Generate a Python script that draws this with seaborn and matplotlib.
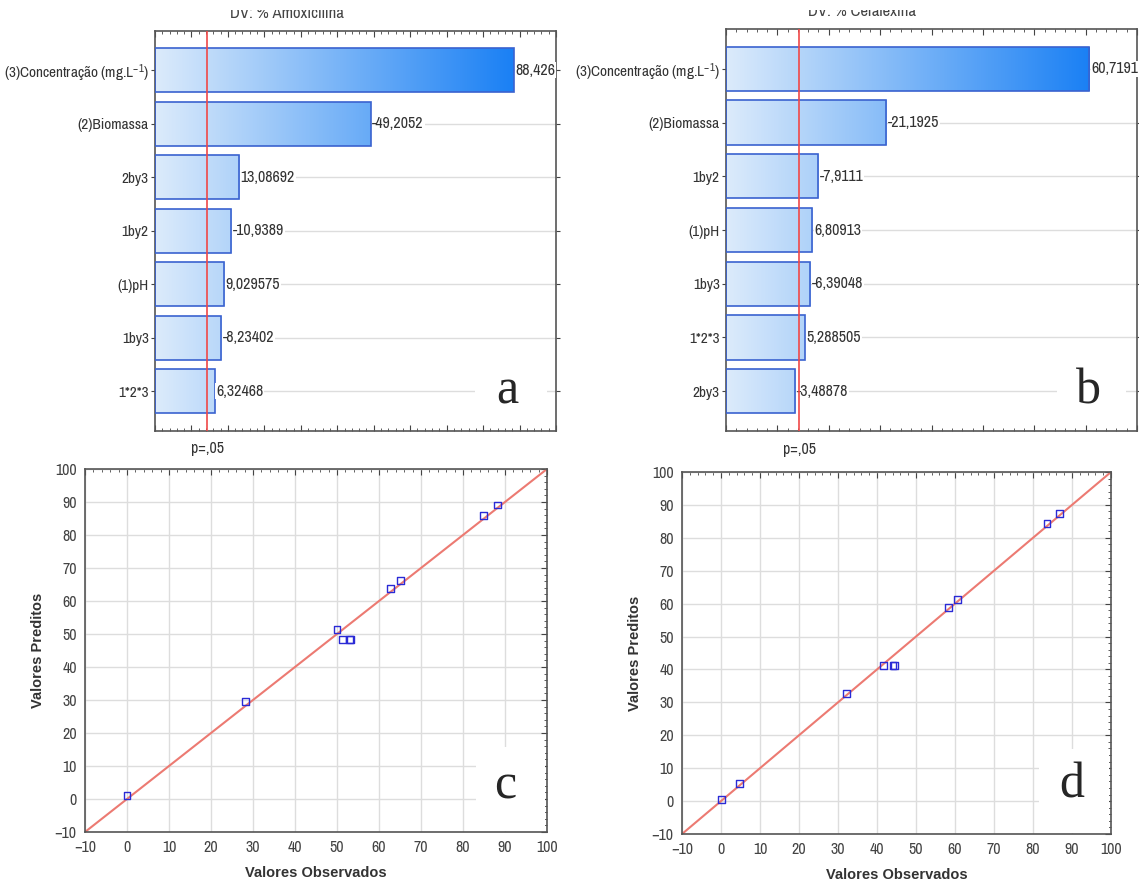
import numpy as np
import matplotlib
matplotlib.use("Agg")
import matplotlib.pyplot as plt
import matplotlib.colors as mcolors
from matplotlib.patches import Rectangle
from matplotlib.ticker import MultipleLocator
import seaborn as sns

# pareto data (standardized effects)
factors_a = ['(3)Concentração (mg.L$^{-1}$)', '(2)Biomassa', '2by3', '1by2', '(1)pH', '1by3', '1*2*3']
effects_a = [88.426, -49.2052, 13.08692, -10.9389, 9.029575, -8.23402, 6.32468]
factors_b = ['(3)Concentração (mg.L$^{-1}$)', '(2)Biomassa', '1by2', '(1)pH', '1by3', '1*2*3', '2by3']
effects_b = [60.7191, -21.1925, -7.9111, 6.80913, -6.39048, 5.288505, -3.48878]
titles = ['DV: % Amoxicilina', 'DV: % Cefalexina']
t_crit = 4.303
xlim_a = [-10, 100]
xlim_b = [-10, 70]

# observed vs predicted
obs_c = [0.0, 28.3, 50.0, 51.3, 52.9, 53.2, 62.7, 65.1, 84.8, 88.3]
pred_c = [1.0, 29.5, 51.3, 48.4, 48.4, 48.4, 63.9, 66.1, 86.0, 89.1]
obs_d = [0.1, 4.8, 32.1, 41.6, 44.1, 44.4, 58.4, 60.6, 83.6, 86.8]
pred_d = [0.4, 5.4, 32.6, 41.2, 41.2, 41.2, 58.9, 61.2, 84.3, 87.5]
scatter_range = [-10, 100]

sns.set_style("white")
plt.rcParams['font.family'] = ['Archivo Narrow', 'Liberation Sans', 'DejaVu Sans']
plt.rcParams['mathtext.fontset'] = 'custom'
plt.rcParams['mathtext.rm'] = 'Archivo Narrow'
plt.rcParams['mathtext.it'] = 'Archivo Narrow'

W, H = 1139, 885
fig = plt.figure(figsize=(W / 100, H / 100), dpi=100)


def px_axes(left, top, right, bottom):
    return fig.add_axes([left / W, 1 - bottom / H, (right - left) / W, (bottom - top) / H])


frame_col = '#555555'
text_col = '#333333'
grad_cmap = mcolors.LinearSegmentedColormap.from_list('g', ['#dcebfb', '#1a80f4'])


def letter_box(ax, x0, x1, y0, y1):
    ax.add_patch(Rectangle((x0, y0), x1 - x0, y1 - y0, transform=ax.transAxes,
                           facecolor='white', edgecolor='none', zorder=5.5))


def pareto(ax, factors, effects, xlim, title, letter, lx, box):
    vals = np.abs(effects)
    sns.barplot(x=vals, y=factors, orient='h', ax=ax, width=0.82,
                color='white', edgecolor='#3a62cf', linewidth=1.2, zorder=3)
    norm = mcolors.Normalize(xlim[0], vals.max())
    for patch, v in zip(ax.patches, vals):
        patch.set_x(xlim[0])
        patch.set_width(v - xlim[0])
        patch.set_facecolor('none')
        y0, h = patch.get_y(), patch.get_height()
        grad = np.linspace(xlim[0], v, 256).reshape(1, -1)
        im = ax.imshow(grad, extent=[xlim[0], v, y0 + h, y0], cmap=grad_cmap, norm=norm,
                       aspect='auto', zorder=2, interpolation='bilinear')
        im.set_clip_path(patch)
    for i, (v, e) in enumerate(zip(vals, effects)):
        ax.axhline(i, color='#dddddd', lw=1, zorder=1)
        ax.text(v + 0.4, i, str(e).replace('.', ','), va='center', ha='left',
                fontsize=11.5, color=text_col, zorder=4,
                bbox=dict(facecolor='white', edgecolor='none', pad=0.5))
    ax.axvline(t_crit, color='#f04848', lw=1.2, zorder=5)
    ax.set_xlim(xlim)
    ax.set_ylim(len(factors) - 1 + 0.74, -0.74)
    ax.set_xlabel('')
    ax.set_ylabel('')
    ax.set_xticklabels([])
    ax.xaxis.set_major_locator(MultipleLocator(10))
    ax.xaxis.set_minor_locator(MultipleLocator(2))
    ax.tick_params(axis='x', which='major', direction='in', length=4, top=True, bottom=True,
                   color='#444444')
    ax.tick_params(axis='x', which='minor', direction='in', length=2, top=True, bottom=True,
                   color='#444444')
    ax.tick_params(axis='y', direction='out', length=3, left=True, right=True,
                   labelsize=11, labelcolor=text_col, pad=1.5, color='#444444')
    for s in ax.spines.values():
        s.set_color(frame_col)
        s.set_linewidth(1.2)
    ax.text(t_crit, -0.045, 'p=,05', transform=ax.get_xaxis_transform(),
            ha='center', va='center', fontsize=11.5, color=text_col)
    ax.text(0.33, 1.0 + 13 / 400, title, transform=ax.transAxes, ha='center', va='baseline',
            fontsize=12, color='#444444')
    letter_box(ax, box[0], box[1], 0.045, 0.16)
    ax.text(lx, len(factors) - 1, letter, transform=ax.get_yaxis_transform(),
            ha='center', va='center', fontsize=36, family='Liberation Serif', zorder=6)


def obs_pred(ax, obs, pred, letter, lpos, box):
    ax.axline((0, 0), slope=1, color='#ec7a72', lw=1.5, zorder=2)
    sns.scatterplot(x=obs, y=pred, ax=ax, marker='s', s=24, facecolor='none',
                    edgecolor='#2a2ad6', linewidth=1.0, zorder=4)
    ax.set_xlim(scatter_range)
    ax.set_ylim(scatter_range)
    ax.xaxis.set_major_locator(MultipleLocator(10))
    ax.yaxis.set_major_locator(MultipleLocator(10))
    ax.xaxis.set_minor_locator(MultipleLocator(2))
    ax.yaxis.set_minor_locator(MultipleLocator(2))
    ax.grid(True, which='major', color='#dddddd', lw=1, zorder=0)
    ax.set_axisbelow(True)
    ax.tick_params(which='major', direction='in', length=4, top=True, right=True,
                   labelsize=11.5, labelcolor='#444444', color='#444444', pad=6)
    ax.tick_params(which='minor', direction='in', length=2, top=True, right=True,
                   color='#444444')
    for s in ax.spines.values():
        s.set_color(frame_col)
        s.set_linewidth(1.2)
    ax.set_xlabel('Valores Observados', fontsize=10.5, fontweight='bold', color=text_col,
                  family=['Liberation Sans', 'DejaVu Sans'], labelpad=8)
    ax.set_ylabel('Valores Preditos', fontsize=10.5, fontweight='bold', color=text_col,
                  family=['Liberation Sans', 'DejaVu Sans'], labelpad=7)
    letter_box(ax, box[0], box[1], 0.004, 0.235)
    ax.text(lpos[0], lpos[1], letter, transform=ax.transAxes, ha='center', va='center',
            fontsize=36, family='Liberation Serif', zorder=6)


ax_a = px_axes(155, 30.7, 556, 430.7)
ax_b = px_axes(726, 29, 1137, 431)
ax_c = px_axes(85, 469, 547, 832)
ax_d = px_axes(682, 472, 1111, 834)

pareto(ax_a, factors_a, effects_a, xlim_a, titles[0], 'a', 0.878, (0.798, 0.978))
pareto(ax_b, factors_b, effects_b, xlim_b, titles[1], 'b', 0.883, (0.805, 0.973))
obs_pred(ax_c, obs_c, pred_c, 'c', (0.91, 0.125), (0.846, 0.996))
obs_pred(ax_d, obs_d, pred_d, 'd', (0.909, 0.135), (0.832, 0.996))

# the source figure was cropped through the titles
fig.add_artist(Rectangle((0, 1 - 10 / H), 1, 10 / H, transform=fig.transFigure,
                         facecolor='white', edgecolor='none', zorder=10))

fig.savefig('out.png', dpi=100)
